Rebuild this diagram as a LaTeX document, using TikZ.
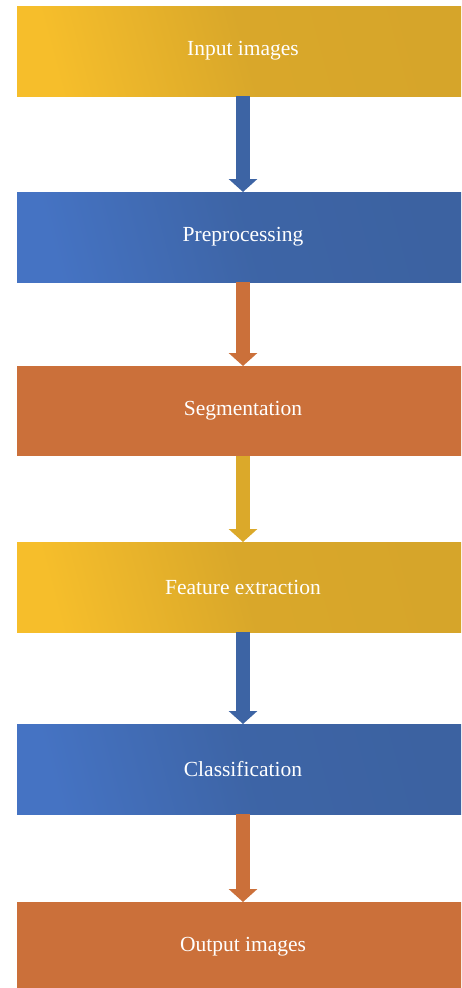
\documentclass[tikz,border=0pt]{standalone}
\usepackage{fontspec}
\setmainfont{Liberation Serif}
\usetikzlibrary{positioning,arrows.meta}

\definecolor{yellowLight}{HTML}{F6BE2B}
\definecolor{yellowDark}{HTML}{D6A52A}
\definecolor{blueLight}{HTML}{4573C3}
\definecolor{blueDark}{HTML}{3C62A1}
\definecolor{orangeBox}{HTML}{CB703A}

\begin{document}
\begin{tikzpicture}[
  every node/.style = {shape=rectangle, align=center, text=white,
    minimum width=452pt, minimum height=90pt, inner sep=0pt, outer sep=0pt,
    font=\fontsize{21.5pt}{24pt}\selectfont},
  YellowBox/.style = {left color=yellowLight, right color=yellowDark,
    middle color=yellowDark!90!yellowLight, shading angle=105},
  BlueBox/.style   = {left color=blueLight, right color=blueDark,
    middle color=blueDark!85!blueLight, shading angle=105},
  OrangeBox/.style = {fill=orangeBox}
  ]
  \useasboundingbox (0,0) rectangle (461pt,-988pt);
  \clip (0,0) rectangle (461pt,-988pt);

  \node[YellowBox] (input) at (243pt,-51pt) {Input images};
  \node[BlueBox]   (prep) [below=96pt of input] {Preprocessing};
  \node[OrangeBox] (seg)  [below=84pt of prep]  {Segmentation};
  \node[YellowBox] (feat) [below=86pt of seg]   {Feature extraction};
  \node[BlueBox]   (class) [below=92pt of feat] {Classification};
  \node[OrangeBox] (output) [below=88pt of class] {Output images};

  \tikzset{FlowArrow/.style = {line width=14pt,
    -{Triangle[width=28pt,length=13pt]}}}

  \draw[FlowArrow, blueDark!90!blueLight]     (input) -- (prep);
  \draw[FlowArrow, orangeBox]                 (prep) -- (seg);
  \draw[FlowArrow, yellowDark!85!yellowLight] (seg) -- (feat);
  \draw[FlowArrow, blueDark!90!blueLight]     (feat) -- (class);
  \draw[FlowArrow, orangeBox]                 (class) -- (output);

\end{tikzpicture}
\end{document}
